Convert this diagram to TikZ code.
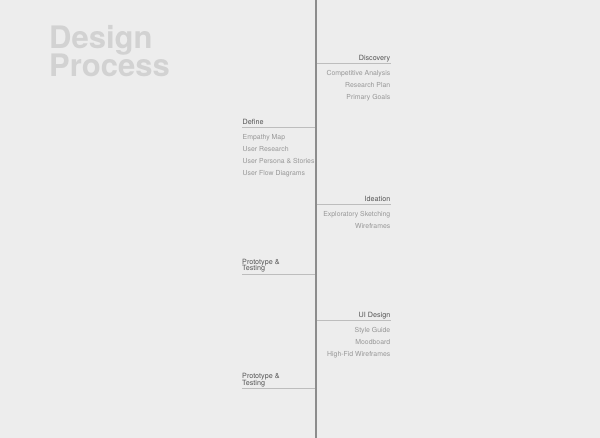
\documentclass[tikz,border=0pt]{standalone}
\usepackage{fontspec}
\setmainfont{TeX Gyre Heros}
\definecolor{bg}{HTML}{EDEDED}
\definecolor{spine}{HTML}{8C8C8C}
\definecolor{rule}{HTML}{BDBDBD}
\definecolor{head}{HTML}{555555}
\definecolor{item}{HTML}{979797}
\definecolor{title}{HTML}{D2D2D2}
\tikzset{
  heading/.style={inner sep=0pt, text=head, font=\fontsize{7.2}{5.6}\selectfont},
  headtwo/.style={heading, align=left},
  itemtxt/.style={inner sep=0pt, text=item, font=\fontsize{6.9}{8}\selectfont},
  underline/.style={draw=rule, line width=0.9pt},
  spineline/.style={draw=spine, line width=2pt},
  titletxt/.style={inner sep=0pt, text=title, font=\fontsize{31}{27.5}\selectfont\bfseries, align=left}
}
\begin{document}
\begin{tikzpicture}[x=1pt,y=-1pt]
\fill[bg] (0,0) rectangle (600,438);
\useasboundingbox (0,0) rectangle (600,438);
% spine
\coordinate (top) at (316.3,0);
\coordinate (bottom) at (316.3,438);
\draw[spineline] (top) -- (bottom);
% title
\node[titletxt, anchor=base west] (title) at (49,76.5) {Design\\[-2pt]Process};
% Discovery
\node[heading, anchor=base east] (disc) at (390.5,61) {Discovery};
\coordinate (discL) at (317,63.5);
\coordinate (discR) at (391,63.5);
\draw[underline] (discL) -- (discR);
\node[itemtxt, anchor=base east] (d1) at (390.5,76) {Competitive Analysis};
\node[itemtxt, anchor=base east] (d2) at (390.5,88) {Research Plan};
\node[itemtxt, anchor=base east] (d3) at (390.5,100) {Primary Goals};
% Define
\node[heading, anchor=base west] (def) at (242.5,125) {Define};
\coordinate (defL) at (242,127.7);
\coordinate (defR) at (315.3,127.7);
\draw[underline] (defL) -- (defR);
\node[itemtxt, anchor=base west] (f1) at (242.5,139.7) {Empathy Map};
\node[itemtxt, anchor=base west] (f2) at (242.5,151.7) {User Research};
\node[itemtxt, anchor=base west] (f3) at (242.5,163.7) {User Persona \& Stories};
\node[itemtxt, anchor=base west] (f4) at (242.5,175.7) {User Flow Diagrams};
% Ideation
\node[heading, anchor=base east] (idea) at (390.5,201.5) {Ideation};
\coordinate (ideaL) at (317,204.3);
\coordinate (ideaR) at (391,204.3);
\draw[underline] (ideaL) -- (ideaR);
\node[itemtxt, anchor=base east] (i1) at (390.5,216.3) {Exploratory Sketching};
\node[itemtxt, anchor=base east] (i2) at (390.5,228.3) {Wireframes};
% Prototype 1
\node[headtwo, anchor=base west] (p1) at (242,270.3) {Prototype \&\\[-1.7pt]Testing};
\coordinate (p1L) at (242,274);
\coordinate (p1R) at (315.3,274);
\draw[underline] (p1L) -- (p1R);
% UI Design
\node[heading, anchor=base east] (ui) at (390.5,317.5) {UI Design};
\coordinate (uiL) at (317,320.7);
\coordinate (uiR) at (391,320.7);
\draw[underline] (uiL) -- (uiR);
\node[itemtxt, anchor=base east] (u1) at (390.5,332.7) {Style Guide};
\node[itemtxt, anchor=base east] (u2) at (390.5,344.7) {Moodboard};
\node[itemtxt, anchor=base east] (u3) at (390.5,356.7) {High-Fid Wireframes};
% Prototype 2
\node[headtwo, anchor=base west] (p2) at (242,385) {Prototype \&\\[-1.7pt]Testing};
\coordinate (p2L) at (242,388.7);
\coordinate (p2R) at (315.3,388.7);
\draw[underline] (p2L) -- (p2R);
\end{tikzpicture}
\end{document}
